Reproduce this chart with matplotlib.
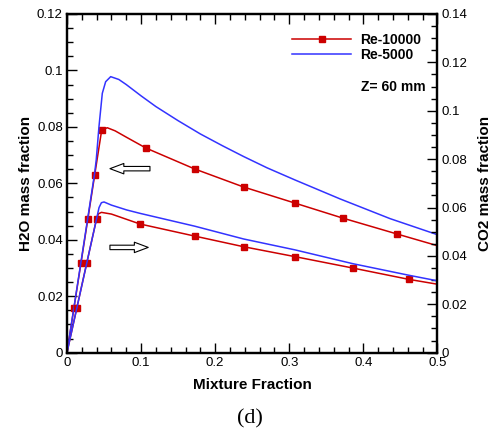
import matplotlib
matplotlib.use("Agg")
import matplotlib.pyplot as plt
from matplotlib.ticker import MultipleLocator, FuncFormatter

plt.rcParams['font.family'] = ['Liberation Sans', 'DejaVu Sans']

# H2O, Re-10000 (left axis)
zf_h2o_re10000 = [0.0, 0.0094, 0.0188, 0.0282, 0.0375, 0.0469, 0.0544, 0.065, 0.0805,
                  0.1066, 0.1723, 0.2384, 0.3077, 0.372, 0.4448, 0.5]
h2o_re10000 = [0.0, 0.0158, 0.0316, 0.0474, 0.0631, 0.0789, 0.0797, 0.0786, 0.0763,
               0.0725, 0.0651, 0.0587, 0.0530, 0.0477, 0.0421, 0.0379]
h2o_re10000_marks = [1, 2, 3, 4, 5, 9, 10, 11, 12, 13, 14]

# H2O, Re-5000 (left axis)
zf_h2o_re5000 = [0.0, 0.0266, 0.0373, 0.0395, 0.0432, 0.0477, 0.0522, 0.059, 0.07, 0.08,
                 0.09, 0.1, 0.12, 0.15, 0.18, 0.21, 0.2384, 0.27, 0.3077, 0.3684, 0.436, 0.5]
h2o_re5000 = [0.0, 0.0452, 0.0635, 0.0683, 0.0801, 0.0919, 0.096, 0.0978, 0.0968, 0.0950,
              0.0930, 0.0910, 0.0872, 0.0822, 0.0775, 0.0733, 0.0695, 0.0655, 0.0612,
              0.0545, 0.0475, 0.0418]

# CO2, Re-10000 (right axis)
zf_co2_re10000 = [0.0, 0.0134, 0.0268, 0.0400, 0.0425, 0.0465, 0.06, 0.0985, 0.1723,
                  0.2384, 0.3077, 0.3856, 0.4615, 0.5]
co2_re10000 = [0.0, 0.0186, 0.0372, 0.0554, 0.0574, 0.0580, 0.0573, 0.0532, 0.0482,
               0.0438, 0.0397, 0.0350, 0.0303, 0.0283]
co2_re10000_marks = [1, 2, 3, 7, 8, 9, 10, 11, 12]

# CO2, Re-5000 (right axis)
zf_co2_re5000 = [0.0, 0.0400, 0.0433, 0.0465, 0.050, 0.06, 0.0806, 0.0985, 0.1723,
                 0.2384, 0.3077, 0.3856, 0.4615, 0.5]
co2_re5000 = [0.0, 0.0554, 0.0600, 0.0620, 0.0623, 0.0610, 0.0590, 0.0576, 0.0523,
              0.0470, 0.0425, 0.0368, 0.0320, 0.0297]

red = '#cc0000'
blue = '#3333ff'

fig = plt.figure(figsize=(4.96, 4.32), dpi=100)
ax = fig.add_axes([0.135, 0.1836, 0.747, 0.784])
ax2 = ax.twinx()

l1, = ax.plot(zf_h2o_re10000, h2o_re10000, color=red, lw=1.1, marker='s', ms=5,
              markevery=h2o_re10000_marks, label='Re-10000')
l2, = ax.plot(zf_h2o_re5000, h2o_re5000, color=blue, lw=1.1, label='Re-5000')
ax2.plot(zf_co2_re10000, co2_re10000, color=red, lw=1.1, marker='s', ms=5,
         markevery=co2_re10000_marks)
ax2.plot(zf_co2_re5000, co2_re5000, color=blue, lw=1.1)

ax.set_xlim(0, 0.5)
ax.set_ylim(0, 0.12)
ax2.set_ylim(0, 0.14)

fmt = FuncFormatter(lambda v, p: f'{v:g}')
ax.xaxis.set_major_locator(MultipleLocator(0.1))
ax.xaxis.set_minor_locator(MultipleLocator(0.02))
ax.yaxis.set_major_locator(MultipleLocator(0.02))
ax.yaxis.set_minor_locator(MultipleLocator(0.005))
ax2.yaxis.set_major_locator(MultipleLocator(0.02))
ax2.yaxis.set_minor_locator(MultipleLocator(0.005))
for a in (ax.xaxis, ax.yaxis, ax2.yaxis):
    a.set_major_formatter(fmt)

ax.tick_params(which='both', direction='in', top=True, right=False, labelsize=9.5, width=1, pad=3)
ax.tick_params(which='major', length=7)
ax.tick_params(which='minor', length=4)
ax2.tick_params(which='both', direction='in', labelsize=9.5, width=1, pad=3)
ax2.tick_params(which='major', length=7)
ax2.tick_params(which='minor', length=4)
for a in (ax, ax2):
    for s in a.spines.values():
        s.set_linewidth(1.6)

ax.set_xlabel('Mixture Fraction', fontsize=11, fontweight='bold')
ax.set_ylabel('H2O mass fraction', fontsize=11, fontweight='bold')
ax2.set_ylabel('CO2 mass fraction', fontsize=11, fontweight='bold')
ax.xaxis.set_label_coords(0.5, -0.075)
ax.yaxis.set_label_coords(-0.093, 0.5)
ax2.yaxis.set_label_coords(1.11, 0.5)

# direction arrows (hollow)
arrow_kw = dict(arrowstyle='simple,head_length=1.0,head_width=0.75,tail_width=0.32',
                fc='white', ec='black', lw=0.8, shrinkA=0, shrinkB=0, mutation_scale=10)
ax.annotate('', xy=(0.058, 0.0652), xytext=(0.112, 0.0652), arrowprops=arrow_kw)
ax.annotate('', xy=(0.1097, 0.0373), xytext=(0.058, 0.0373), arrowprops=arrow_kw)

leg = ax2.legend([l1, l2], ['Re-10000', 'Re-5000'], loc='upper left',
                 bbox_to_anchor=(0.6065, 0.944), frameon=False, borderpad=0,
                 borderaxespad=0, handlelength=4.3, handletextpad=0.65,
                 labelspacing=0.05, prop={'weight': 'bold', 'size': 10})

ax2.text(0.7927, 0.7853, 'Z= 60 mm', transform=ax2.transAxes, fontsize=10,
         fontweight='bold', va='center', ha='left')

fig.text(250 / 496, 1 - 419 / 432, '(d)', fontsize=16, family='Liberation Serif',
         ha='center', va='center')

fig.savefig('out.png', dpi=100)
